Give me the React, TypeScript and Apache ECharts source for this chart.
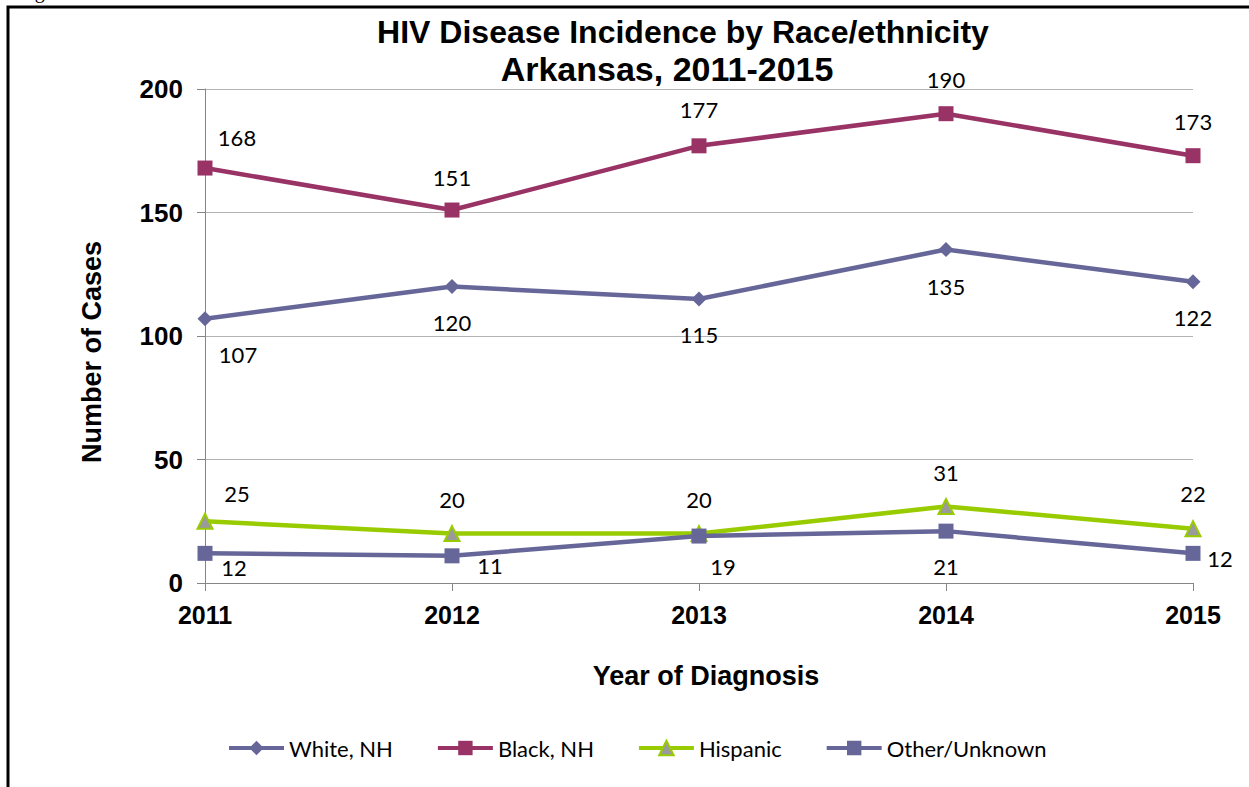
import React, { useEffect, useRef } from "react";
import * as echarts from "echarts";

// Yearly HIV diagnoses in Arkansas by race/ethnicity
const years = ["2011", "2012", "2013", "2014", "2015"];
const whiteNH = [107, 120, 115, 135, 122];
const blackNH = [168, 151, 177, 190, 173];
const hispanic = [25, 20, 20, 31, 22];
const otherUnknown = [12, 11, 19, 21, 12];

const seriesNames = ["White, NH", "Black, NH", "Hispanic", "Other/Unknown"];

// Value axis range
const yMin = 0;
const yMax = 200;
const yStep = 50;

// Where each value label sits relative to its point, in pixels [dx, dy]
const whiteLabelShift = [[33, 36], [0, 36], [0, 36], [0, 37], [0, 36]];
const blackLabelShift = [[32, -31], [0, -33], [0, -36], [0, -34], [0, -34]];
const hispanicLabelShift = [[32, -28], [0, -34], [0, -34], [0, -34], [0, -35]];
const otherLabelShift = [[29, 14], [38, 10], [24, 30], [0, 35], [27, 5]];

const SLATE = "#666699";
const PLUM = "#993366";
const LIME = "#99cc00";
const GREY_FILL = "#9a9a9a";

const labelFont = "Lato, 'Open Sans', sans-serif";
const boldFont = "'Liberation Sans', Arial, sans-serif";

function withLabels(values: number[], shifts: number[][]) {
  return values.map((v, i) => ({ value: v, label: { offset: shifts[i] } }));
}

function lineSeries(
  name: string,
  values: number[],
  shifts: number[][],
  color: string,
  symbol: string,
  symbolSize: number,
  itemStyle: any
) {
  return {
    name,
    type: "line",
    data: withLabels(values, shifts),
    symbol,
    symbolSize,
    lineStyle: { color, width: 4.5 },
    itemStyle,
    label: {
      show: true,
      position: "inside",
      formatter: "{c}",
      color: "#000",
      fontFamily: labelFont,
      fontSize: 22,
      textBorderWidth: 0,
    },
    emphasis: { disabled: true },
  };
}

export default function App() {
  const ref = useRef<HTMLDivElement>(null);

  useEffect(() => {
    if (!ref.current) return;
    const chart = echarts.init(ref.current, null, { renderer: "svg" });
    chart.setOption({
      animation: false,
      backgroundColor: "#ffffff",
      grid: { left: 205, right: 56, top: 89, bottom: 204 },
      legend: {
        data: [
          { name: seriesNames[0] },
          { name: seriesNames[1] },
          {
            name: seriesNames[2],
            itemStyle: { color: GREY_FILL, borderColor: LIME, borderWidth: 2 },
          },
          { name: seriesNames[3] },
        ],
        left: 222,
        top: 732,
        itemWidth: 55,
        itemHeight: 18,
        itemGap: 43,
        lineStyle: { width: 4 },
        textStyle: { fontFamily: labelFont, fontSize: 22, color: "#000" },
      },
      xAxis: {
        type: "category",
        data: years,
        boundaryGap: false,
        axisLine: { lineStyle: { color: "#868686", width: 1 } },
        axisTick: { show: true, length: 8, lineStyle: { color: "#868686" } },
        axisLabel: {
          margin: 19,
          fontFamily: boldFont,
          fontWeight: "bold",
          fontSize: 25,
          color: "#000",
        },
        splitLine: { show: false },
      },
      yAxis: {
        type: "value",
        min: yMin,
        max: yMax,
        interval: yStep,
        axisLine: { show: true, lineStyle: { color: "#868686", width: 1 } },
        axisTick: { show: true, length: 8, lineStyle: { color: "#868686" } },
        axisLabel: {
          margin: 22,
          fontFamily: boldFont,
          fontWeight: "bold",
          fontSize: 26,
          color: "#000",
        },
        splitLine: { show: true, lineStyle: { color: "#b3b3b3", width: 1 } },
      },
      series: [
        lineSeries(seriesNames[0], whiteNH, whiteLabelShift, SLATE, "diamond", 15, {
          color: SLATE,
          borderWidth: 0,
        }),
        lineSeries(seriesNames[1], blackNH, blackLabelShift, PLUM, "rect", 15, {
          color: PLUM,
          borderWidth: 0,
        }),
        lineSeries(seriesNames[2], hispanic, hispanicLabelShift, LIME, "triangle", 15, {
          color: GREY_FILL,
          borderColor: LIME,
          borderWidth: 2,
        }),
        lineSeries(seriesNames[3], otherUnknown, otherLabelShift, SLATE, "rect", 15, {
          color: SLATE,
          borderWidth: 0,
        }),
      ],
      graphic: [
        {
          type: "rect",
          shape: { x: 8, y: 7, width: 1400, height: 1000 },
          style: { fill: "none", stroke: "#000", lineWidth: 3 },
          silent: true,
        },
        {
          // caption above the frame, mostly off the top of the page
          type: "text",
          x: 18,
          y: 1,
          style: {
            text: "Figure",
            fontFamily: "'Liberation Serif', 'Times New Roman', serif",
            fontSize: 20,
            fill: "#000",
            textVerticalAlign: "bottom",
          },
          silent: true,
        },
        {
          type: "text",
          x: 683,
          y: 32,
          style: {
            text: "HIV Disease Incidence by Race/ethnicity",
            fontFamily: boldFont,
            fontWeight: "bold",
            fontSize: 32,
            fill: "#000",
            textAlign: "center",
            textVerticalAlign: "middle",
          },
          silent: true,
        },
        {
          type: "text",
          x: 667,
          y: 69,
          style: {
            text: "Arkansas, 2011-2015",
            fontFamily: boldFont,
            fontWeight: "bold",
            fontSize: 34,
            fill: "#000",
            textAlign: "center",
            textVerticalAlign: "middle",
          },
          silent: true,
        },
        {
          type: "text",
          x: 92,
          y: 352,
          rotation: Math.PI / 2,
          style: {
            text: "Number of Cases",
            fontFamily: boldFont,
            fontWeight: "bold",
            fontSize: 27,
            fill: "#000",
            textAlign: "center",
            textVerticalAlign: "middle",
          },
          silent: true,
        },
        {
          type: "text",
          x: 706,
          y: 676,
          style: {
            text: "Year of Diagnosis",
            fontFamily: boldFont,
            fontWeight: "bold",
            fontSize: 27,
            fill: "#000",
            textAlign: "center",
            textVerticalAlign: "middle",
          },
          silent: true,
        },
      ],
    });
    return () => chart.dispose();
  }, []);

  return (
    <div
      ref={ref}
      style={{ position: "fixed", left: 0, top: 0, width: 1249, height: 787 }}
    />
  );
}
